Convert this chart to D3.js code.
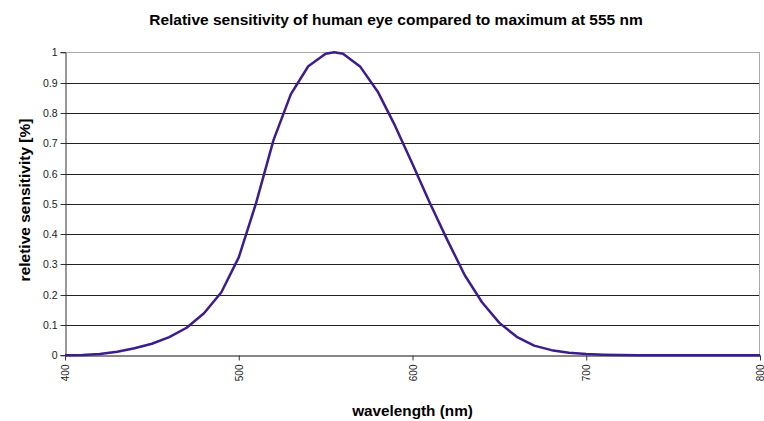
<!DOCTYPE html>
<html><head><meta charset="utf-8">
<script src="https://cdn.jsdelivr.net/npm/d3@7"></script>
<style>body{margin:0;background:#fff}svg{display:block;font-family:"Liberation Sans",Arial,sans-serif}</style>
</head><body><svg id="c" width="764" height="421"></svg>
<script>
const wavelengths = [400,410,420,430,440,450,460,470,480,490,500,510,520,530,540,550,555,560,570,580,590,600,610,620,630,640,650,660,670,680,690,700,710,720,730,740,750,760,770,780,790,800];
const sensitivity = [0.0004,0.0012,0.004,0.0116,0.023,0.038,0.06,0.091,0.139,0.208,0.323,0.503,0.71,0.862,0.954,0.995,1.0,0.995,0.952,0.87,0.757,0.631,0.503,0.381,0.265,0.175,0.107,0.061,0.032,0.017,0.0082,0.0041,0.0021,0.00105,0.00052,0.00025,0.00012,0.00006,0.00003,0.000015,0.000007,0.000003];
const xTicks = [400,500,600,700,800];
const yTicks = [0,0.1,0.2,0.3,0.4,0.5,0.6,0.7,0.8,0.9,1];
const titleText = "Relative sensitivity of human eye compared to maximum at 555 nm";
const xTitle = "wavelength (nm)";
const yTitle = "reletive sensitivity [%]";

const svg = d3.select("#c");
const L = 65, R = 760, T = 52.3, B = 355.3;
const x = d3.scaleLinear().domain([400,800]).range([L,R]);
const y = d3.scaleLinear().domain([0,1]).range([B,T]);

// gridlines
svg.append("g").selectAll("line").data(yTicks.filter(d=>d>0 && d<1)).join("line")
  .attr("x1",L).attr("x2",R)
  .attr("y1",d=>Math.round(y(d))+0.5).attr("y2",d=>Math.round(y(d))+0.5)
  .attr("stroke","#222").attr("stroke-width",1);
// plot border top/right
svg.append("line").attr("x1",L).attr("x2",R).attr("y1",Math.round(T)+0.5).attr("y2",Math.round(T)+0.5).attr("stroke","#aaa");
svg.append("line").attr("x1",Math.round(R)-0.5).attr("x2",Math.round(R)-0.5).attr("y1",T).attr("y2",B).attr("stroke","#aaa");

// axes
const yAxis = d3.axisLeft(y).tickValues(yTicks).tickFormat(d3.format("~g")).tickSize(5).tickPadding(3);
const gy = svg.append("g").attr("transform",`translate(${Math.round(L)+0.5},0)`).call(yAxis);
gy.select(".domain").attr("stroke","#333");
gy.selectAll(".tick line").attr("stroke","#333");
gy.selectAll(".tick").attr("transform",d=>`translate(0,${Math.round(y(d))+0.5})`);
gy.selectAll("text").attr("font-size","10.5px").attr("fill","#222").attr("font-family","Liberation Sans, Arial, sans-serif");

const xAxis = d3.axisBottom(x).tickValues(xTicks).tickSize(5).tickSizeOuter(0);
const gx = svg.append("g").attr("transform",`translate(0,${Math.round(B)+0.5})`).call(xAxis);
gx.select(".domain").attr("stroke","#111");
gx.selectAll(".tick line").attr("stroke","#333");
gx.selectAll("text").attr("font-size","10px").attr("fill","#222").attr("font-family","Liberation Sans, Arial, sans-serif")
  .attr("transform","rotate(-90)").attr("text-anchor","end").attr("x",-9).attr("y",0).attr("dy","0.35em");

// line
svg.append("path").datum(wavelengths.map((w,i)=>[w,sensitivity[i]]))
  .attr("fill","none").attr("stroke","#3d1c8c").attr("stroke-width",2.5).attr("stroke-linejoin","round")
  .attr("d",d3.line().x(d=>x(d[0])).y(d=>y(d[1])));

// titles
svg.append("text").attr("x",396).attr("y",25).attr("text-anchor","middle")
  .attr("font-size","15.5px").attr("font-weight","bold").attr("fill","#000").text(titleText);
svg.append("text").attr("x",412.5).attr("y",416).attr("text-anchor","middle")
  .attr("font-size","15.3px").attr("font-weight","bold").attr("fill","#000").text(xTitle);
svg.append("text").attr("transform","translate(30,200) rotate(-90)").attr("text-anchor","middle")
  .attr("font-size","15.5px").attr("font-weight","bold").attr("fill","#000").text(yTitle);
</script></body></html>
